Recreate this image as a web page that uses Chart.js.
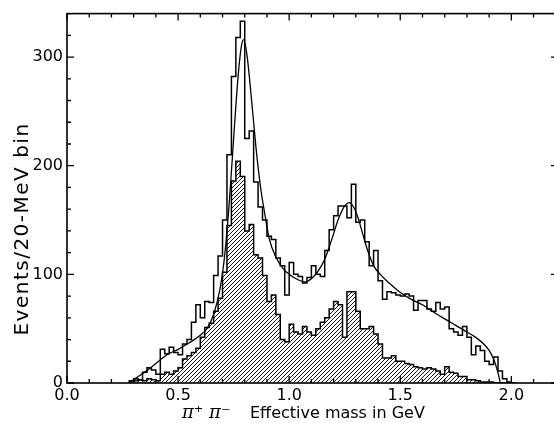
<!DOCTYPE html>
<html><head><meta charset="utf-8">
<script src="https://cdn.jsdelivr.net/npm/chart.js@4.4.1/dist/chart.umd.min.js"></script>
<style>html,body{margin:0;padding:0;overflow:hidden;background:#fff}#wrap{width:564px;height:423px;position:relative}</style>
</head><body><div id="wrap"><canvas id="c" width="564" height="423"></canvas></div>
<script>
// Bin left edges (GeV), 20-MeV bins
const binLeftEdges = [0.28,0.30,0.32,0.34,0.36,0.38,0.40,0.42,0.44,0.46,0.48,0.50,0.52,0.54,0.56,0.58,0.60,0.62,0.64,0.66,0.68,0.70,0.72,0.74,0.76,0.78,0.80,0.82,0.84,0.86,0.88,0.90,0.92,0.94,0.96,0.98,1.00,1.02,1.04,1.06,1.08,1.10,1.12,1.14,1.16,1.18,1.20,1.22,1.24,1.26,1.28,1.30,1.32,1.34,1.36,1.38,1.40,1.42,1.44,1.46,1.48,1.50,1.52,1.54,1.56,1.58,1.60,1.62,1.64,1.66,1.68,1.70,1.72,1.74,1.76,1.78,1.80,1.82,1.84,1.86,1.88,1.90,1.92,1.94,1.96,1.98,2.00];
const binWidth = 0.02;
// All events (open histogram)
const allEvents = [2,4,3,10,14,12,8,31,27,33,28,26,36,40,56,72,60,75,74,99,117,150,210,282,318,333,225,232,185,162,150,135,132,115,108,81,111,100,98,92,97,108,100,98,122,141,154,163,163,152,183,148,150,130,108,122,94,77,84,83,81,80,82,80,67,76,76,68,66,74,68,70,50,47,44,52,42,26,34,30,20,17,24,11,4,1,0];
// Selected subsample (hatched histogram)
const hatchedEvents = [0,2,3,2,4,3,2,8,10,8,11,14,22,25,28,32,42,51,55,66,78,102,145,186,204,190,140,146,118,115,99,75,81,63,40,38,54,47,45,52,47,44,50,56,60,68,75,72,42,84,84,66,50,50,52,45,36,23,23,25,20,20,18,17,15,14,13,14,13,11,8,15,10,9,6,6,3,3,2,1,1,1,0,0,0,0,0];
// Fitted curve
const fitMass   = [0.28,0.30,0.32,0.35,0.40,0.45,0.50,0.55,0.60,0.63,0.66,0.69,0.71,0.73,0.75,0.77,0.785,0.795,0.81,0.83,0.85,0.87,0.89,0.91,0.94,0.97,1.00,1.04,1.07,1.10,1.13,1.16,1.19,1.22,1.25,1.27,1.29,1.31,1.33,1.35,1.38,1.41,1.45,1.49,1.55,1.60,1.66,1.70,1.75,1.80,1.84,1.88,1.90,1.92,1.935,1.945,1.95];
const fitEvents = [0,3,6,10,18,26,31,37,44,50,63,88,118,165,225,282,310,316,302,262,218,182,156,133,116,106,100,95,93,96,103,114,131,150,163,166,162,152,138,124,108,100,92,85,77,72,64,59,53,47,42,35,30,22,13,5,0];
// Axis ticks and titles
const xLabelTicks = [0,0.5,1.0,1.5,2.0];
const xMinorTicks = [0,0.1,0.2,0.3,0.4,0.5,0.6,0.7,0.8,0.9,1.0,1.1,1.2,1.3,1.4,1.5,1.6,1.7,1.8,1.9,2.0,2.1,2.2];
const yLabelTicks = [0,100,200,300];
const yMinorTicks = [0,20,40,60,80,100,120,140,160,180,200,220,240,260,280,300,320,340];
const xTitleParticles = 'π⁺ π⁻';
const xTitleText = 'Effective mass in GeV';
const yTitleText = 'Events/20-MeV bin';

function stepPoints(edges, vals){
  const pts = [{x: edges[0], y: 0}];
  edges.forEach((e,i)=>pts.push({x: e, y: vals[i]}));
  pts.push({x: edges[edges.length-1] + binWidth, y: 0});
  return pts;
}

// hatch pattern
const tile = document.createElement('canvas');
tile.width = 4; tile.height = 4;
const tc = tile.getContext('2d');
tc.strokeStyle = '#000'; tc.lineWidth = 0.9;
tc.beginPath();
for (const o of [-4,0,4]) { tc.moveTo(o-1, 5); tc.lineTo(o+5, -1); }
tc.stroke();
const hatch = tc.createPattern(tile, 'repeat');

const frameTicks = {
  id: 'frameTicks',
  afterDraw(chart){
    const {ctx, chartArea: a, scales: {x, y}} = chart;
    ctx.save();
    ctx.strokeStyle = '#000';
    ctx.lineWidth = 1.6;
    ctx.strokeRect(a.left, a.top, a.right - a.left, a.bottom - a.top);
    ctx.lineWidth = 1.3;
    ctx.beginPath();
    xMinorTicks.forEach(v => {
      const px = x.getPixelForValue(v);
      const L = xLabelTicks.some(t => Math.abs(t - v) < 1e-6) ? 7 : 4;
      ctx.moveTo(px, a.bottom); ctx.lineTo(px, a.bottom - L);
      ctx.moveTo(px, a.top); ctx.lineTo(px, a.top + L);
    });
    yMinorTicks.forEach(v => {
      const py = y.getPixelForValue(v);
      const L = yLabelTicks.includes(v) ? 7 : 4;
      ctx.moveTo(a.left, py); ctx.lineTo(a.left + L, py);
      ctx.moveTo(a.right, py); ctx.lineTo(a.right - L, py);
    });
    ctx.stroke();

    // axis titles
    ctx.fillStyle = '#000';
    ctx.textBaseline = 'alphabetic';
    // x title
    ctx.textAlign = 'left';
    ctx.font = 'italic 18px "DejaVu Serif"';
    ctx.fillText(xTitleParticles, 182, 418);
    ctx.font = '16px "DejaVu Sans"';
    ctx.fillText(xTitleText, 250, 418);
    // y title
    ctx.translate(28, 229);
    ctx.rotate(-Math.PI / 2);
    ctx.textAlign = 'center';
    ctx.font = '20px "DejaVu Sans"';
    try { ctx.letterSpacing = '1.5px'; } catch (e) {}
    ctx.fillText(yTitleText, 0, 0);
    ctx.restore();
  }
};

new Chart(document.getElementById('c'), {
  type: 'line',
  data: {
    datasets: [
      {
        label: 'fit',
        data: fitMass.map((m,i)=>({x: m, y: fitEvents[i]})),
        borderColor: '#000', borderWidth: 1.3, pointRadius: 0,
        cubicInterpolationMode: 'monotone', fill: false
      },
      {
        label: 'all',
        data: stepPoints(binLeftEdges, allEvents),
        borderColor: '#000', borderWidth: 1.5, pointRadius: 0,
        stepped: 'before', fill: false
      },
      {
        label: 'selected',
        data: stepPoints(binLeftEdges, hatchedEvents),
        borderColor: '#000', borderWidth: 1.5, pointRadius: 0,
        stepped: 'before', fill: 'origin', backgroundColor: hatch
      }
    ]
  },
  options: {
    responsive: false,
    animation: false,
    layout: { padding: { top: 6, right: 6, left: 0, bottom: 0 } },
    plugins: { legend: { display: false }, tooltip: { enabled: false } },
    scales: {
      x: {
        type: 'linear', min: 0, max: 2.21,
        grid: { display: false, drawTicks: false }, border: { display: false },
        afterBuildTicks: s => { s.ticks = xLabelTicks.map(v => ({value: v})); },
        afterFit: s => { s.height = 40; },
        ticks: { color: '#000', padding: 3, font: { family: 'DejaVu Sans', size: 16 },
                 callback: v => Number(v).toFixed(1) }
      },
      y: {
        type: 'linear', min: 0, max: 340,
        grid: { display: false, drawTicks: false }, border: { display: false },
        afterBuildTicks: s => { s.ticks = yLabelTicks.map(v => ({value: v})); },
        afterFit: s => { s.width = 67; },
        ticks: { color: '#000', padding: 4, font: { family: 'DejaVu Sans', size: 16 } }
      }
    }
  },
  plugins: [frameTicks]
});
</script>
</body></html>
